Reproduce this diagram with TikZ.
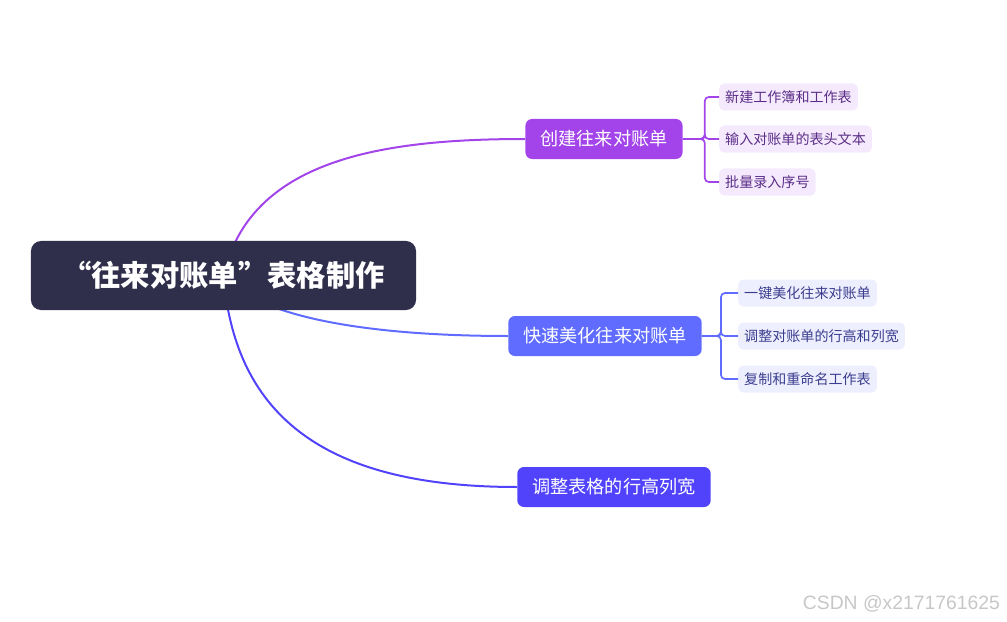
\documentclass[tikz,border=0pt]{standalone}
\usepackage{fontspec}
\newfontfamily\cjk{Noto Sans CJK SC}
\newfontfamily\wmfont{Liberation Sans}
\usetikzlibrary{backgrounds}

\definecolor{rootcol}{HTML}{2F2E4B}
\definecolor{createcol}{HTML}{A244EA}
\definecolor{beautycol}{HTML}{5F6CFF}
\definecolor{sizecol}{HTML}{5143FB}
\definecolor{leafA}{HTML}{F4E9FD}
\definecolor{leafAtext}{HTML}{5B2E87}
\definecolor{leafB}{HTML}{EDEEFE}
\definecolor{leafBtext}{HTML}{3B3E8E}

\tikzset{
    rootbox/.style={fill=rootcol, text=white, rounded corners=0.3cm,
        minimum width=11.55cm, minimum height=2.07cm,
        font=\cjk\bfseries\fontsize{25}{29}\selectfont},
    topicbox/.style={fill=#1, text=white, rounded corners=0.2cm,
        minimum height=1.2cm, inner xsep=0.45cm,
        font=\cjk\fontsize{15.5}{18}\selectfont},
    leafbox/.style={rounded corners=0.15cm, anchor=west,
        minimum height=0.81cm, inner xsep=0.18cm,
        font=\cjk\fontsize{12}{14}\selectfont},
    branch/.style={line width=0.06cm, draw=#1},
    twig/.style={line width=0.05cm, draw=#1, rounded corners=0.12cm}
}

\begin{document}
\begin{tikzpicture}[x=0.03cm, y=-0.03cm]

        \useasboundingbox (0,0) rectangle (1007,622);

        % --- Nodo centrale e rami principali ---
        \node[rootbox] (root) at (223.5,275.5) {“往来对账单”表格制作};
        \node[topicbox=createcol] (create) at (604,139) {创建往来对账单};
        \node[topicbox=beautycol] (beauty) at (605,336) {快速美化往来对账单};
        \node[topicbox=sizecol] (size) at (614,487) {调整表格的行高列宽};

        % --- Curve dal nodo centrale (dietro ai box) ---
        \begin{pgfonlayer}{background}
            \draw[branch=createcol] (root.center)
                .. controls (250,160) and (380,139) .. (create.west);
            \draw[branch=beautycol] (root.center)
                .. controls (260,320) and (380,336) .. (beauty.west);
            \draw[branch=sizecol] (root.center)
                .. controls (235,420) and (330,487) .. (size.west);
        \end{pgfonlayer}

        % --- Foglie del primo ramo ---
        \foreach \n/\y/\t in {a1/97/新建工作簿和工作表, a2/139/输入对账单的表头文本, a3/182/批量录入序号} {
            \node[leafbox, fill=leafA, text=leafAtext] (\n) at (719,\y) {\t};
            \draw[twig=createcol] (create.east) -- ++(22,0) |- (\n.west);
        }

        % --- Foglie del secondo ramo ---
        \foreach \n/\y/\t in {b1/293/一键美化往来对账单, b2/336/调整对账单的行高和列宽, b3/379/复制和重命名工作表} {
            \node[leafbox, fill=leafB, text=leafBtext] (\n) at (738,\y) {\t};
            \draw[twig=beautycol] (beauty.east) -- ++(19,0) |- (\n.west);
        }

        % --- Filigrana ---
        \node[anchor=east, text=black!22, font=\wmfont\fontsize{16.5}{18}\selectfont]
            (mark) at (1004,604) {CSDN @x2171761625};

    \end{tikzpicture}
\end{document}
